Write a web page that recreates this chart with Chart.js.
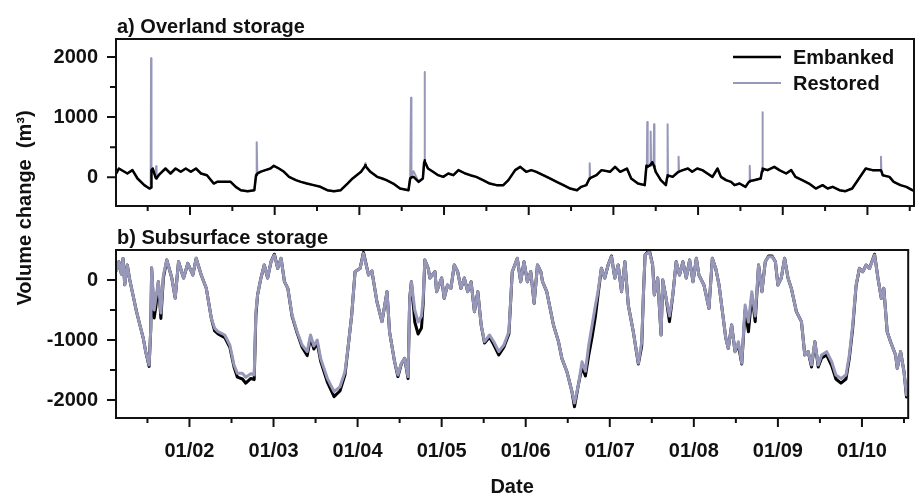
<!DOCTYPE html>
<html>
<head>
<meta charset="utf-8">
<title>Volume change</title>
<script src="https://cdn.jsdelivr.net/npm/chart.js@4.4.1/dist/chart.umd.min.js"></script>
<style>
  html, body { margin: 0; padding: 0; background: #fff; }
  #wrap { position: relative; width: 916px; height: 497px; }
  #wrap canvas { position: absolute; left: 0; top: 0; }
</style>
</head>
<body>
<div id="wrap">
  <canvas id="overland" width="916" height="497"></canvas>
  <canvas id="subsurface" width="916" height="497"></canvas>
</div>
<script>
// Eje X compartido (años decimales) y etiquetas
const yearTicks  = [2002, 2003, 2004, 2005, 2006, 2007, 2008, 2009, 2010];
const yearLabels = ['01/02', '01/03', '01/04', '01/05', '01/06', '01/07', '01/08', '01/09', '01/10'];
const overTickMarks = [0, 500, 1000, 1500, 2000];
const overTicks     = [0, 1000, 2000];
const subTickMarks  = [-2000, -1500, -1000, -500, 0];
const subTicks      = [-2000, -1000, 0];
const seriesNames = ['Embanked', 'Restored'];

// a) Overland storage
const overDates = [
  2001.13, 2001.14, 2001.16, 2001.26, 2001.32, 2001.38, 2001.46, 2001.52, 2001.535, 2001.54,
  2001.545, 2001.56, 2001.595, 2001.60, 2001.605, 2001.63, 2001.71, 2001.77, 2001.83, 2001.89,
  2001.95, 2002.01, 2002.07, 2002.13, 2002.20, 2002.28, 2002.32, 2002.40, 2002.48, 2002.54,
  2002.60, 2002.68, 2002.76, 2002.78, 2002.785, 2002.79, 2002.795, 2002.83, 2002.89, 2002.95,
  2002.99, 2003.05, 2003.11, 2003.17, 2003.25, 2003.31, 2003.38, 2003.46, 2003.54, 2003.62,
  2003.70, 2003.78, 2003.86, 2003.92, 2004.02, 2004.065, 2004.07, 2004.075, 2004.13, 2004.21,
  2004.27, 2004.32, 2004.40, 2004.48, 2004.58, 2004.60, 2004.605, 2004.61, 2004.615, 2004.64,
  2004.70, 2004.75, 2004.765, 2004.77, 2004.775, 2004.81, 2004.87, 2004.93, 2004.99, 2005.05,
  2005.11, 2005.17, 2005.25, 2005.31, 2005.38, 2005.46, 2005.54, 2005.62, 2005.70, 2005.76,
  2005.84, 2005.90, 2005.97, 2006.03, 2006.09, 2006.17, 2006.25, 2006.33, 2006.41, 2006.49,
  2006.57, 2006.62, 2006.68, 2006.715, 2006.72, 2006.725, 2006.80, 2006.86, 2006.96, 2007.02,
  2007.08, 2007.16, 2007.21, 2007.29, 2007.37, 2007.39, 2007.395, 2007.40, 2007.405, 2007.435,
  2007.44, 2007.445, 2007.46, 2007.475, 2007.48, 2007.485, 2007.50, 2007.56, 2007.62, 2007.635,
  2007.64, 2007.645, 2007.70, 2007.765, 2007.77, 2007.775, 2007.82, 2007.88, 2007.93, 2007.99,
  2008.05, 2008.11, 2008.17, 2008.23, 2008.27, 2008.33, 2008.39, 2008.43, 2008.49, 2008.56,
  2008.60, 2008.605, 2008.61, 2008.615, 2008.66, 2008.74, 2008.755, 2008.76, 2008.765, 2008.82,
  2008.90, 2008.96, 2009.04, 2009.10, 2009.15, 2009.23, 2009.31, 2009.39, 2009.47, 2009.53,
  2009.59, 2009.67, 2009.74, 2009.82, 2009.90, 2009.98, 2010.06, 2010.14, 2010.155, 2010.16,
  2010.165, 2010.18, 2010.26, 2010.31, 2010.39, 2010.46, 2010.53, 2010.55
];
const overEmbanked = [
  60, 89, 144, 61, 117, -22, -133, -189, -180, -170,
  120, 144, -10, -22, -20, 33, 144, 61, 144, 89,
  144, 89, 144, 61, 33, -106, -78, -78, -78, -161,
  -217, -233, -217, 33, 40, 50, 60, 89, 117, 144,
  189, 144, 89, 5, -50, -78, -106, -133, -161, -217,
  -233, -217, -106, -22, 89, 180, 200, 180, 89, 5,
  -22, -50, -106, -189, -217, -22, -22, -10, 0, 5,
  -78, -22, 250, 283, 260, 144, 89, 33, 5, 61,
  33, 117, 61, 33, 5, -50, -106, -133, -133, -50,
  117, 172, 89, 117, 89, 33, -22, -78, -133, -189,
  -217, -161, -133, -30, -22, -15, 33, 117, 89, 172,
  89, 144, -22, -106, -133, 189, 180, 170, 170, 200,
  210, 220, 250, 200, 180, 160, 89, -50, -133, 0,
  33, 30, 5, 85, 89, 92, 117, 144, 89, 144,
  117, 61, 5, 144, 5, -50, -78, -133, -106, -161,
  -78, -75, -70, -65, -50, -22, 100, 144, 140, 117,
  172, 117, 61, 117, 5, -50, -106, -189, -133, -189,
  -161, -217, -233, -189, -22, 144, 117, 117, 115, 110,
  100, 33, 5, -78, -133, -161, -217, -230
];
const overRestored = [
  60, 89, 144, 61, 117, -22, -133, -189, -180, 1980,
  120, 144, -10, 180, -20, 33, 144, 61, 144, 89,
  144, 89, 144, 61, 33, -106, -78, -78, -78, -161,
  -217, -233, -217, 33, 40, 580, 60, 89, 117, 144,
  189, 144, 89, 5, -50, -78, -106, -133, -161, -217,
  -233, -217, -106, -22, 89, 180, 230, 180, 89, 5,
  -22, -50, -106, -189, -217, -22, -22, 1320, 0, 100,
  -78, -22, 250, 1750, 260, 144, 89, 33, 5, 61,
  33, 117, 61, 33, 5, -50, -106, -133, -133, -50,
  117, 172, 89, 117, 89, 33, -22, -78, -133, -189,
  -217, -161, -133, -30, 230, -15, 33, 117, 89, 172,
  89, 144, -22, -106, -133, 189, 180, 920, 170, 200,
  760, 220, 250, 200, 880, 160, 89, -50, -133, 0,
  880, 30, 5, 85, 340, 92, 117, 144, 89, 144,
  117, 61, 5, 144, 5, -50, -78, -133, -106, -161,
  -78, -75, 190, -65, -50, -22, 100, 1080, 140, 117,
  172, 117, 61, 117, 5, -50, -106, -189, -133, -189,
  -161, -217, -233, -189, -22, 144, 117, 117, 115, 340,
  100, 33, 5, -78, -133, -161, -217, -230
];

// b) Subsurface storage
const subDates = [
  2001.13, 2001.16, 2001.19, 2001.21, 2001.23, 2001.26, 2001.29, 2001.37,
  2001.41, 2001.45, 2001.48, 2001.52, 2001.54, 2001.55, 2001.58, 2001.60,
  2001.63, 2001.66, 2001.69, 2001.73, 2001.79, 2001.83, 2001.87, 2001.93,
  2001.98, 2002.04, 2002.08, 2002.14, 2002.20, 2002.26, 2002.30, 2002.34,
  2002.42, 2002.48, 2002.53, 2002.57, 2002.63, 2002.67, 2002.73, 2002.77,
  2002.79, 2002.81, 2002.85, 2002.89, 2002.93, 2002.97, 2003.01, 2003.05,
  2003.09, 2003.13, 2003.17, 2003.22, 2003.28, 2003.34, 2003.40, 2003.44,
  2003.48, 2003.52, 2003.56, 2003.64, 2003.72, 2003.79, 2003.85, 2003.89,
  2003.93, 2003.97, 2004.03, 2004.07, 2004.13, 2004.17, 2004.23, 2004.29,
  2004.35, 2004.38, 2004.44, 2004.48, 2004.52, 2004.56, 2004.60, 2004.62,
  2004.64, 2004.68, 2004.72, 2004.76, 2004.78, 2004.80, 2004.84, 2004.86,
  2004.92, 2004.94, 2005.00, 2005.03, 2005.07, 2005.11, 2005.15, 2005.19,
  2005.23, 2005.27, 2005.31, 2005.35, 2005.39, 2005.43, 2005.47, 2005.51,
  2005.57, 2005.62, 2005.68, 2005.74, 2005.80, 2005.84, 2005.90, 2005.94,
  2005.98, 2006.02, 2006.06, 2006.10, 2006.14, 2006.18, 2006.20, 2006.25,
  2006.29, 2006.33, 2006.39, 2006.43, 2006.49, 2006.55, 2006.58, 2006.63,
  2006.67, 2006.71, 2006.75, 2006.79, 2006.83, 2006.86, 2006.90, 2006.94,
  2006.98, 2007.02, 2007.06, 2007.10, 2007.14, 2007.18, 2007.22, 2007.28,
  2007.34, 2007.38, 2007.40, 2007.42, 2007.47, 2007.51, 2007.53, 2007.57,
  2007.61, 2007.63, 2007.67, 2007.71, 2007.75, 2007.79, 2007.83, 2007.87,
  2007.91, 2007.95, 2007.99, 2008.03, 2008.06, 2008.12, 2008.18, 2008.22,
  2008.26, 2008.30, 2008.34, 2008.38, 2008.41, 2008.45, 2008.49, 2008.53,
  2008.57, 2008.61, 2008.65, 2008.69, 2008.73, 2008.77, 2008.81, 2008.85,
  2008.89, 2008.93, 2008.97, 2009.00, 2009.04, 2009.08, 2009.12, 2009.16,
  2009.22, 2009.28, 2009.32, 2009.36, 2009.40, 2009.44, 2009.48, 2009.52,
  2009.58, 2009.64, 2009.69, 2009.75, 2009.81, 2009.85, 2009.89, 2009.93,
  2009.97, 2010.01, 2010.05, 2010.09, 2010.15, 2010.19, 2010.23, 2010.26,
  2010.30, 2010.34, 2010.40, 2010.42, 2010.46, 2010.50, 2010.53, 2010.55
];
const subRestored = [
  150, 305, 100, 360, -80, 250, 0, -528,
  -750, -967, -1200, -1417, -800, 200, -500, -300,
  -28, -550, 83, 333, 33, -300, 305, 33,
  278, 83, 361, 83, -139, -639, -806, -861,
  -917, -1083, -1417, -1556, -1556, -1620, -1560, -1583,
  -528, -250, 33, 250, 33, 305, 417, 194,
  361, -28, -139, -583, -861, -1083, -1194, -917,
  -1100, -1000, -1306, -1639, -1860, -1780, -1528, -1083,
  -583, 139, 194, 444, 83, 150, -361, -694,
  -194, -861, -1361, -1583, -1390, -1306, -1611, -306,
  -28, -500, -700, -600, -306, 333, 194, 33,
  139, -194, 33, -306, -83, -139, 250, 139,
  -139, 33, -194, -28, -528, -194, -750, -1028,
  -917, -1028, -1194, -1083, -861, 139, 361, -28,
  305, -28, 139, -389, 250, 139, -28, -194,
  -472, -750, -1028, -1306, -1528, -1861, -2050, -1722,
  -1361, -1520, -1083, -750, -417, -194, 194, 33,
  250, 389, 33, 250, -194, 305, -417, -861,
  -1389, -1028, -250, 417, 472, 250, -250, 33,
  -917, 0, -306, -600, -250, 305, 83, 305,
  33, 333, -28, 361, 83, -83, -472, 361,
  194, -83, -528, -967, -1139, -750, -1194, -1028,
  -1389, -417, -700, -194, -600, 250, -194, 305,
  389, 389, 305, -83, 33, 361, 33, -139,
  -528, -694, -1250, -1194, -1417, -1028, -1417, -1250,
  -1194, -1361, -1583, -1640, -1583, -1250, -750, -83,
  194, 139, 250, 194, 417, 33, -306, -139,
  -861, -1028, -1250, -1472, -1194, -1528, -1917, -1850
];
const subEmbanked = [
  150, 305, 100, 360, -80, 250, 0, -528,
  -750, -967, -1200, -1440, -800, 200, -633, -450,
  -28, -640, 40, 333, 33, -300, 305, 33,
  278, 83, 361, 83, -139, -639, -850, -900,
  -960, -1120, -1450, -1620, -1650, -1720, -1640, -1660,
  -600, -250, 33, 250, 33, 305, 430, 194,
  361, -28, -139, -600, -880, -1120, -1260, -960,
  -1150, -1050, -1350, -1700, -1944, -1850, -1580, -1083,
  -583, 139, 194, 460, 83, 150, -361, -694,
  -194, -861, -1361, -1610, -1400, -1306, -1640, -306,
  -28, -700, -900, -800, -400, 333, 194, 33,
  139, -194, 33, -306, -83, -139, 250, 139,
  -139, 33, -194, -28, -528, -194, -750, -1050,
  -950, -1080, -1250, -1120, -900, 139, 361, -28,
  305, -28, 139, -389, 250, 139, -28, -194,
  -472, -750, -1028, -1306, -1528, -1861, -2111, -1722,
  -1450, -1600, -1250, -950, -600, -250, 194, 33,
  250, 400, 33, 250, -194, 305, -417, -861,
  -1400, -1100, -250, 417, 500, 250, -250, 33,
  -917, 0, -306, -694, -250, 305, 83, 305,
  33, 333, -28, 361, 83, -83, -472, 361,
  194, -83, -528, -967, -1139, -750, -1194, -1080,
  -1400, -500, -861, -250, -694, 250, -194, 305,
  400, 400, 305, -83, 33, 361, 33, -139,
  -528, -694, -1250, -1194, -1450, -1028, -1450, -1300,
  -1250, -1430, -1650, -1720, -1650, -1300, -800, -100,
  194, 139, 250, 194, 430, 33, -306, -139,
  -861, -1028, -1250, -1472, -1194, -1528, -1950, -1880
];

// Estilo general
const FONT = "'Liberation Sans', Arial, sans-serif";
const INK = '#111111';
const COLOR_EMB = '#000000';
const COLOR_RES = '#9797b9';
const X_MIN = 2001.126;
const X_MAX = 2010.55;

Chart.defaults.font.family = FONT;
Chart.defaults.color = INK;

function toPoints(xs, ys) {
  return xs.map((x, i) => ({ x: x, y: ys[i] }));
}

function isWhole(v, step) {
  return Math.abs(v / step - Math.round(v / step)) < 1e-6;
}

// Marco, marcas de ejes (mayores y menores) y título del panel
const panelPlugin = {
  id: 'panel',
  afterDraw(chart, args, opts) {
    const { ctx, chartArea: a } = chart;
    const xs = chart.scales.x, ys = chart.scales.y;
    ctx.save();
    ctx.strokeStyle = INK;
    ctx.lineWidth = 2;
    ctx.strokeRect(a.left, a.top, a.right - a.left, a.bottom - a.top);
    ctx.beginPath();
    xs.ticks.forEach(t => {
      const px = xs.getPixelForValue(t.value);
      const len = isWhole(t.value, 1) ? 9 : 5;
      ctx.moveTo(px, a.bottom);
      ctx.lineTo(px, a.bottom + len);
    });
    ys.ticks.forEach(t => {
      const py = ys.getPixelForValue(t.value);
      const len = isWhole(t.value, 1000) ? 9 : 6;
      ctx.moveTo(a.left - len, py);
      ctx.lineTo(a.left, py);
    });
    ctx.stroke();
    ctx.fillStyle = INK;
    ctx.font = 'bold 20px ' + FONT;
    ctx.textAlign = 'left';
    ctx.textBaseline = 'alphabetic';
    ctx.fillText(opts.title, a.left + 1, a.top - 6);

    // leyenda dentro del panel superior
    if (opts.legend) {
      chart.data.datasets.slice().sort((p, q) => seriesNames.indexOf(p.label) - seriesNames.indexOf(q.label))
        .forEach((ds, i) => {
          const y = a.top + 18 + i * 26;
          ctx.strokeStyle = ds.borderColor;
          ctx.lineWidth = ds.borderWidth;
          ctx.beginPath();
          ctx.moveTo(a.right - 181, y);
          ctx.lineTo(a.right - 133, y);
          ctx.stroke();
          ctx.textBaseline = 'middle';
          ctx.fillText(ds.label, a.right - 121, y + 1);
        });
    }

    // título del eje Y común a los dos paneles
    if (opts.yTitle) {
      ctx.translate(25, 208);
      ctx.rotate(-Math.PI / 2);
      ctx.textAlign = 'center';
      ctx.textBaseline = 'middle';
      ctx.fillText(opts.yTitle, 0, 0);
    }
    ctx.restore();
  }
};

function xAxis(showLabels) {
  return {
    type: 'linear',
    min: X_MIN,
    max: X_MAX,
    grid: { drawOnChartArea: false, drawTicks: true, tickLength: 9, color: 'transparent' },
    border: { display: false },
    ticks: {
      display: showLabels,
      stepSize: 0.5,
      includeBounds: false,
      autoSkip: false,
      maxRotation: 0,
      padding: 12,
      color: INK,
      font: { size: 20, weight: 'bold' },
      callback: v => {
        const k = yearTicks.findIndex(t => Math.abs(t - v) < 1e-6);
        return k >= 0 ? yearLabels[k] : '';
      }
    },
    title: {
      display: showLabels,
      text: 'Date',
      color: INK,
      font: { size: 20, weight: 'bold', lineHeight: 1 },
      padding: { top: 0, bottom: 0 }
    },
    afterFit: s => { s.height = showLabels ? 79 : 10; }
  };
}

function yAxis(min, max, marks, labels) {
  return {
    type: 'linear',
    min: min,
    max: max,
    grid: { drawOnChartArea: false, tickLength: 9, color: 'transparent' },
    border: { display: false },
    ticks: {
      autoSkip: false,
      padding: 9,
      color: INK,
      font: { size: 20, weight: 'bold' },
      callback: v => labels.includes(v) ? String(v) : ''
    },
    // marcas cada 500, etiquetas solo en los miles
    afterBuildTicks: s => { s.ticks = marks.map(v => ({ value: v })); },
    afterFit: s => { s.width = 116; }
  };
}

const baseOptions = {
  responsive: false,
  animation: false,
  events: [],
  plugins: { legend: { display: false }, tooltip: { enabled: false } },
  elements: { point: { radius: 0 }, line: { tension: 0, borderJoinStyle: 'round' } }
};

// Panel superior: la serie restaurada queda debajo, solo se ven sus picos
new Chart(document.getElementById('overland'), {
  type: 'line',
  data: {
    datasets: [
      {
        label: 'Embanked',
        data: toPoints(overDates, overEmbanked),
        borderColor: COLOR_EMB,
        borderWidth: 2.5,
        order: 0
      },
      {
        label: 'Restored',
        data: toPoints(overDates, overRestored),
        borderColor: COLOR_RES,
        borderWidth: 2,
        order: 1
      }
    ]
  },
  options: {
    ...baseOptions,
    layout: { padding: { top: 39, left: 0, right: 2, bottom: 281 } },
    scales: { x: xAxis(false), y: yAxis(-480, 2300, overTickMarks, overTicks) },
    plugins: { ...baseOptions.plugins, panel: { title: 'a) Overland storage', legend: true } }
  },
  plugins: [panelPlugin]
});

// Panel inferior: la serie restaurada se dibuja encima
new Chart(document.getElementById('subsurface'), {
  type: 'line',
  data: {
    datasets: [
      {
        label: 'Restored',
        data: toPoints(subDates, subRestored),
        borderColor: COLOR_RES,
        borderWidth: 3,
        order: 0
      },
      {
        label: 'Embanked',
        data: toPoints(subDates, subEmbanked),
        borderColor: COLOR_EMB,
        borderWidth: 3,
        order: 1
      }
    ]
  },
  options: {
    ...baseOptions,
    layout: { padding: { top: 250, left: 0, right: 2, bottom: 0 } },
    scales: { x: xAxis(true), y: yAxis(-2300, 500, subTickMarks, subTicks) },
    plugins: { ...baseOptions.plugins, panel: { title: 'b) Subsurface storage', yTitle: 'Volume change  (m\u00B3)' } }
  },
  plugins: [panelPlugin]
});
</script>
</body>
</html>
